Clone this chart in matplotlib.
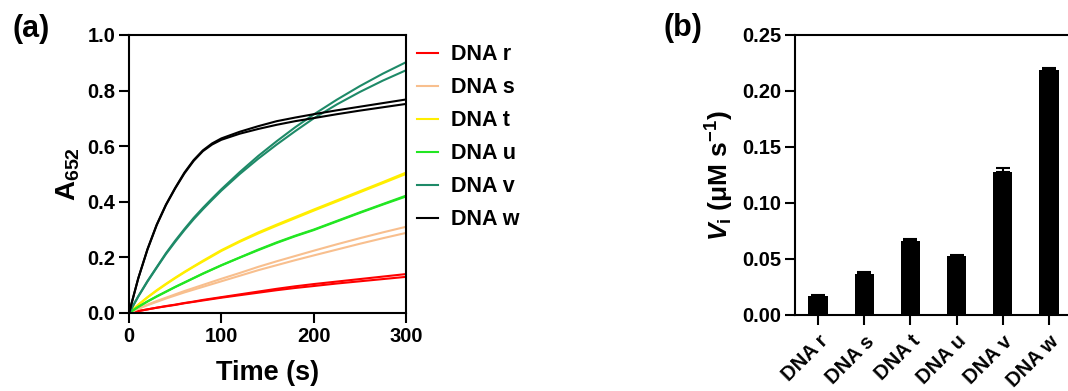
import matplotlib
matplotlib.use("Agg")
import matplotlib.pyplot as plt
import numpy as np

plt.rcParams["font.family"] = ["Liberation Sans", "DejaVu Sans"]
plt.rcParams["font.weight"] = "bold"
plt.rcParams["mathtext.fontset"] = "custom"
plt.rcParams["mathtext.rm"] = "Liberation Sans:bold"
plt.rcParams["mathtext.it"] = "Liberation Sans:bold:italic"
plt.rcParams["mathtext.bf"] = "Liberation Sans:bold"
plt.rcParams["axes.linewidth"] = 1.5

# (a) 흡광도 kinetics, 각 DNA 2회 반복
time_s = [0, 10, 20, 30, 40, 50, 60, 70, 80, 90, 100,
          120, 140, 160, 180, 200, 225, 250, 275, 300]

dna_r_1 = [0, 0.007, 0.013, 0.019, 0.025, 0.030, 0.036, 0.041, 0.047, 0.052, 0.057,
           0.067, 0.077, 0.087, 0.096, 0.104, 0.113, 0.122, 0.131, 0.140]
dna_r_2 = [0, 0.007, 0.013, 0.019, 0.024, 0.029, 0.035, 0.040, 0.045, 0.050, 0.055,
           0.064, 0.073, 0.082, 0.090, 0.097, 0.106, 0.114, 0.122, 0.130]

dna_s_1 = [0, 0.016, 0.030, 0.043, 0.055, 0.067, 0.079, 0.090, 0.101, 0.112, 0.123,
           0.144, 0.166, 0.186, 0.205, 0.224, 0.247, 0.269, 0.290, 0.310]
dna_s_2 = [0, 0.015, 0.028, 0.040, 0.052, 0.063, 0.074, 0.084, 0.094, 0.104, 0.114,
           0.134, 0.154, 0.172, 0.190, 0.207, 0.228, 0.249, 0.269, 0.288]

dna_t_1 = [0, 0.030, 0.057, 0.082, 0.105, 0.127, 0.148, 0.168, 0.188, 0.207, 0.226,
           0.259, 0.290, 0.318, 0.345, 0.372, 0.405, 0.438, 0.471, 0.505]
dna_t_2 = [0, 0.029, 0.056, 0.080, 0.103, 0.125, 0.146, 0.166, 0.185, 0.204, 0.223,
           0.256, 0.286, 0.314, 0.341, 0.368, 0.401, 0.434, 0.467, 0.500]

dna_u_1 = [0, 0.022, 0.042, 0.060, 0.077, 0.094, 0.110, 0.126, 0.142, 0.157, 0.172,
           0.200, 0.228, 0.254, 0.278, 0.300, 0.331, 0.362, 0.392, 0.422]
dna_u_2 = [0, 0.022, 0.041, 0.059, 0.076, 0.093, 0.109, 0.125, 0.141, 0.156, 0.171,
           0.199, 0.226, 0.252, 0.276, 0.298, 0.329, 0.360, 0.390, 0.419]

dna_v_1 = [0, 0.060, 0.115, 0.165, 0.215, 0.260, 0.302, 0.342, 0.378, 0.412, 0.445,
           0.507, 0.565, 0.618, 0.668, 0.714, 0.767, 0.816, 0.861, 0.902]
dna_v_2 = [0, 0.059, 0.113, 0.163, 0.212, 0.256, 0.298, 0.337, 0.373, 0.407, 0.440,
           0.500, 0.555, 0.606, 0.654, 0.700, 0.750, 0.795, 0.836, 0.873]

dna_w_1 = [0, 0.125, 0.230, 0.318, 0.390, 0.450, 0.505, 0.550, 0.585, 0.610, 0.628,
           0.652, 0.672, 0.690, 0.703, 0.715, 0.729, 0.742, 0.755, 0.768]
dna_w_2 = [0, 0.124, 0.228, 0.316, 0.388, 0.448, 0.502, 0.547, 0.582, 0.606, 0.623,
           0.645, 0.662, 0.677, 0.690, 0.701, 0.715, 0.728, 0.740, 0.752]

dna_names = ["DNA r", "DNA s", "DNA t", "DNA u", "DNA v", "DNA w"]
curve_colors = ["#ff0000", "#f8bf8e", "#ffee00", "#22e622", "#1e8a68", "#000000"]
replicates = [(dna_r_1, dna_r_2), (dna_s_1, dna_s_2), (dna_t_1, dna_t_2),
              (dna_u_1, dna_u_2), (dna_v_1, dna_v_2), (dna_w_1, dna_w_2)]

# (b) 초기 속도 Vi (μM/s), 평균 + 위쪽 오차
vi_mean = [0.0166, 0.0369, 0.0657, 0.0526, 0.1278, 0.2191]
vi_err = [0.0012, 0.0014, 0.0020, 0.0009, 0.0036, 0.0015]

fig = plt.figure(figsize=(10.68, 3.91), dpi=100)

ax1 = fig.add_axes([0.1208, 0.1995, 0.2593, 0.711])
t = np.array(time_s)
for name, color, (rep1, rep2) in zip(dna_names, curve_colors, replicates):
    ax1.plot(t, rep1, color=color, lw=1.5, label=name)
    ax1.plot(t, rep2, color=color, lw=1.5)
ax1.set_xlim(0, 300)
ax1.set_ylim(0, 1.0)
ax1.set_xticks([0, 100, 200, 300])
ax1.set_yticks(np.arange(0, 1.01, 0.2))
ax1.yaxis.set_major_formatter(plt.FormatStrFormatter("%.1f"))
ax1.tick_params(labelsize=14.5, width=1.5, length=7, pad=3)
ax1.set_xlabel("Time (s)", fontsize=19.5, fontweight="bold", labelpad=10)
ax1.set_ylabel(r"A$_{\mathrm{652}}$", fontsize=20, fontweight="bold", labelpad=4)
ax1.legend(loc="upper left", bbox_to_anchor=(0.390, 0.887), bbox_transform=fig.transFigure,
           frameon=False, borderpad=0, borderaxespad=0, handlelength=1.0,
           handletextpad=0.6, labelspacing=0.56, prop={"size": 15.5, "weight": "bold"})

ax2 = fig.add_axes([0.7444, 0.1944, 0.2594, 0.7161])
x = np.arange(len(dna_names))
ax2.bar(x, vi_mean, width=0.42, color="black")
ax2.errorbar(x, vi_mean, yerr=[np.zeros(len(vi_err)), vi_err], fmt="none",
             ecolor="black", elinewidth=1.5, capsize=5, capthick=1.5)
ax2.set_xlim(-0.5, 5.5)
ax2.set_ylim(0, 0.25)
ax2.set_yticks(np.arange(0, 0.251, 0.05))
ax2.yaxis.set_major_formatter(plt.FormatStrFormatter("%.2f"))
ax2.set_xticks(x)
ax2.set_xticklabels(dna_names, rotation=45, ha="right", rotation_mode="anchor")
ax2.tick_params(labelsize=14.5, width=1.5, length=7, pad=3)
ax2.tick_params(axis="x", pad=5)
ax2.set_ylabel(r"$V_{\mathrm{i}}$ (μM s$^{\mathrm{-1}}$)", fontsize=19,
               fontweight="bold", labelpad=4)

fig.text(0.029, 0.925, "(a)", fontsize=22, fontweight="bold", ha="center", va="center")
fig.text(0.639, 0.928, "(b)", fontsize=22, fontweight="bold", ha="center", va="center")

fig.savefig("out.png", dpi=100)
